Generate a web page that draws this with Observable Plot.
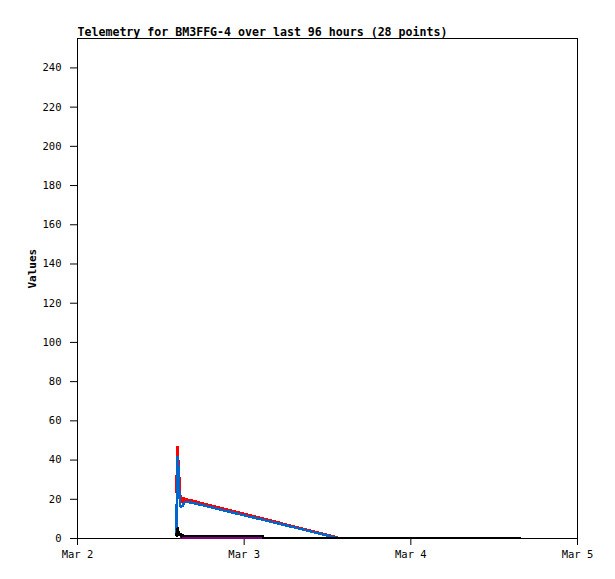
<!DOCTYPE html>
<html>
<head>
<meta charset="utf-8">
<script src="https://cdn.jsdelivr.net/npm/d3@7"></script>
<script src="https://cdn.jsdelivr.net/npm/@observablehq/plot@0.6"></script>
<style>
  html, body { margin: 0; padding: 0; background: white; }
  svg { display: block; }
</style>
</head>
<body>
<div id="chart"></div>
<script>
const titleText = "Telemetry for BM3FFG-4 over last 96 hours (28 points)";
const yLabel = "Values";

const times = [
  "2024-03-02T14:15Z", "2024-03-02T14:22Z", "2024-03-02T14:28Z", "2024-03-02T14:35Z",
  "2024-03-02T14:41Z", "2024-03-02T14:48Z", "2024-03-02T14:54Z", "2024-03-02T15:01Z",
  "2024-03-02T15:07Z", "2024-03-02T15:14Z", "2024-03-02T15:20Z", "2024-03-02T15:27Z",
  "2024-03-02T15:33Z", "2024-03-02T15:42Z", "2024-03-02T15:50Z", "2024-03-02T16:03Z",
  "2024-03-02T16:16Z", "2024-03-02T16:42Z", "2024-03-02T17:17Z", "2024-03-02T18:00Z",
  "2024-03-02T19:09Z", "2024-03-02T22:02Z", "2024-03-03T02:38Z", "2024-03-03T02:47Z",
  "2024-03-03T13:26Z", "2024-03-03T13:35Z", "2024-03-04T05:43Z", "2024-03-04T15:48Z"
];
const redValues = [
  23, 47, 36, 40, 28, 22, 19, 20, 18, 21, 19.5, 20, 19.8, 20, 19.8, 19.7,
  19.5, 19.1, 18.6, 17.9, 16.9, 14.3, 10.2, 10.1, 0.5, null, null, null
];
const blueValues = [
  2, 42, 41, 30, 22, 17, 16, 17, 16, 17.5, 18, 18.5, 18.6, 18.7, 18.6, 18.5,
  18.4, 18.1, 17.6, 17.0, 16.0, 13.5, 9.6, 9.5, 0.3, null, null, null
];
const blackValues = [
  1, 5.5, 4, 3, 1.5, 2.5, 1.2, 1, 2, 1, 1.3, 1.3, 1.3, 1.3, 1.3, 1.3,
  1.3, 1.3, 1.3, 1.3, 1.3, 1.3, 1.3, 0.3, 0.3, 0.3, 0.3, 0.3
];
const purpleValues = [
  null, null, null, null, null, 0.2, 0.2, 0.2, 0.2, 0.2, 0.2, 0.2, 0.2, 0.2, 0.2, 0.2,
  0.2, 0.2, 0.2, 0.2, 0.2, 0.2, 0.2, null, null, null, null, null
];
const xTicks = ["2024-03-02T00:00Z", "2024-03-03T00:00Z", "2024-03-04T00:00Z", "2024-03-05T00:00Z"];
const xTickLabels = ["Mar 2", "Mar 3", "Mar 4", "Mar 5"];
const yTicks = [0, 20, 40, 60, 80, 100, 120, 140, 160, 180, 200, 220, 240];

const seriesDefs = [
  {values: redValues, color: "#ff0000"},
  {values: blueValues, color: "#0066cc"},
  {values: purpleValues, color: "#800080"},
  {values: blackValues, color: "#000000"}
];

const xTickDates = xTicks.map(s => new Date(s));
const rowsFor = vals => times.map((t, i) => ({t: new Date(t), v: vals[i]}));

const lineMarks = seriesDefs.map(s =>
  Plot.line(rowsFor(s.values), {
    x: "t", y: "v", stroke: s.color, strokeWidth: 2.5,
    defined: d => d.v != null, curve: "linear",
    strokeLinejoin: "miter", strokeLinecap: "butt",
    shapeRendering: "crispEdges"
  })
);

const chart = Plot.plot({
  width: 615,
  height: 579,
  marginTop: 38,
  marginLeft: 77,
  marginRight: 38,
  marginBottom: 41,
  style: {fontFamily: "'DejaVu Sans Mono', monospace", fontSize: "10px", background: "white", color: "black"},
  x: {
    type: "utc",
    domain: [new Date(xTicks[0]), new Date(xTicks[3])],
    label: null
  },
  y: {domain: [0, 255], label: null},
  marks: [
    Plot.frame({stroke: "black", strokeWidth: 1}),
    Plot.axisX({
      ticks: xTickDates, tickSize: 7, tickPadding: 5,
      tickFormat: d => xTickLabels[xTickDates.findIndex(x => +x === +d)],
      fontSize: 10.5, label: null
    }),
    Plot.axisY({ticks: yTicks, tickSize: 7, tickPadding: 9, fontSize: 10.5, label: null}),
    ...lineMarks,
    Plot.text([titleText], {
      frameAnchor: "top-left", lineAnchor: "bottom", textAnchor: "start",
      dy: -3, fontWeight: "bold", fontSize: 11.6
    }),
    Plot.text([yLabel], {
      frameAnchor: "left", dx: -45, rotate: -90,
      fontWeight: "bold", fontSize: 11
    })
  ]
});
document.getElementById("chart").appendChild(chart);
</script>
</body>
</html>
